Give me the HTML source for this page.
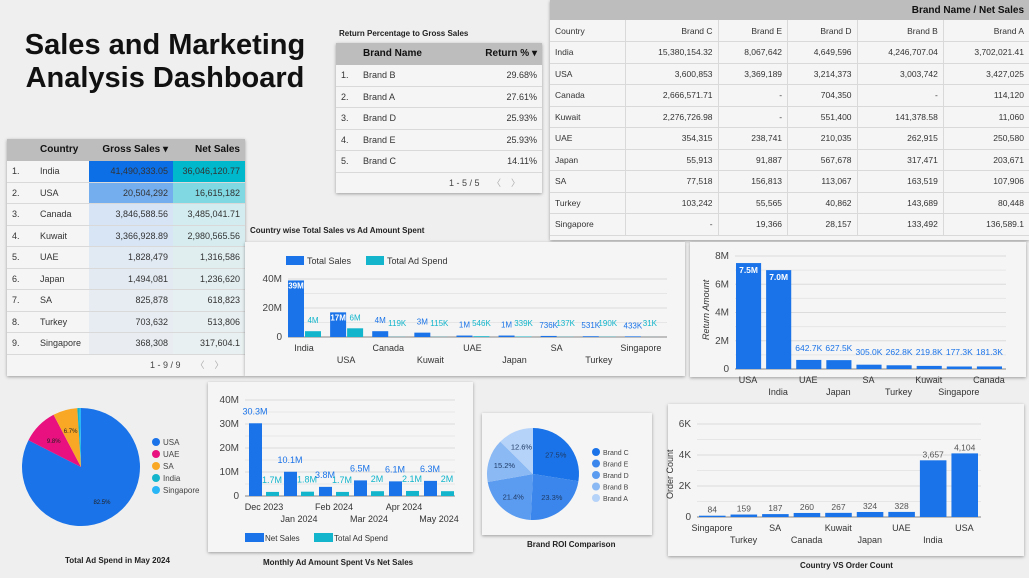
<!DOCTYPE html>
<html><head><meta charset="utf-8">
<style>
*{box-sizing:border-box;margin:0;padding:0}
body{width:1029px;height:578px;background:#efefef;font-family:"Liberation Sans",sans-serif;position:relative;overflow:hidden;color:#222}
.abs{position:absolute}
.panel{position:absolute;background:#f5f5f5;box-shadow:0 1px 3px rgba(0,0,0,.35)}
table{border-collapse:collapse;font-size:9px;color:#333}
td,th{height:21.5px;padding:0 5px;border-bottom:1px solid #d9d9d9;white-space:nowrap}
th{background:#bdbdbd;font-weight:bold;color:#111;font-size:10px;border-bottom:none}
.r{text-align:right}
.ttl{position:absolute;font-size:8px;font-weight:bold;color:#222;white-space:nowrap}
svg text{font-family:"Liberation Sans",sans-serif}
</style></head><body>
<div class="abs" style="left:5px;top:29px;width:320px;text-align:center;font-size:29px;font-weight:bold;line-height:33px;color:#111">Sales and Marketing Analysis Dashboard</div>

<!-- left table -->
<div class="panel" style="left:7px;top:139px;width:238px;height:237px">
<table style="width:238px">
<tr style="height:20px"><th style="width:28px;height:20px"></th><th style="text-align:left;width:54px">Country</th><th class="r" style="width:84px">Gross Sales ▾</th><th class="r">Net Sales</th></tr>
<tbody id="lt"></tbody></table>
<div class="abs" style="left:143px;top:219px;font-size:9px;color:#444">1 - 9 / 9 &nbsp;&nbsp;&nbsp;&nbsp; <span style="color:#aaa">〈 &nbsp;&nbsp; 〉</span></div>
</div>

<!-- return table -->
<div class="ttl" style="left:339px;top:29px">Return Percentage to Gross Sales</div>
<div class="panel" style="left:336px;top:43px;width:206px;height:150px">
<table style="width:206px">
<tr><th style="width:22px;height:21px"></th><th style="text-align:left">Brand Name</th><th class="r">Return % ▾</th></tr>
<tr><td>1.</td><td>Brand B</td><td class="r">29.68%</td></tr>
<tr><td>2.</td><td>Brand A</td><td class="r">27.61%</td></tr>
<tr><td>3.</td><td>Brand D</td><td class="r">25.93%</td></tr>
<tr><td>4.</td><td>Brand E</td><td class="r">25.93%</td></tr>
<tr><td>5.</td><td>Brand C</td><td class="r">14.11%</td></tr>
</table>
<div class="abs" style="left:113px;top:133px;font-size:9px;color:#444">1 - 5 / 5 &nbsp;&nbsp;&nbsp; <span style="color:#aaa">〈 &nbsp;&nbsp; 〉</span></div>
</div>

<!-- pivot -->
<div class="panel" style="left:550px;top:0;width:479px;height:240px">
<table style="width:479px;font-size:8.5px">
<tr><th colspan="6" class="r" style="height:20px">Brand Name / Net Sales</th></tr>
<tbody id="pv"></tbody></table>
</div>

<div class="ttl" style="left:250px;top:226px">Country wise Total Sales vs Ad Amount Spent</div>
<div class="panel" style="left:245px;top:242px;width:440px;height:134px"></div>
<div class="panel" style="left:690px;top:242px;width:336px;height:135px"></div>
<div class="panel" style="left:208px;top:382px;width:265px;height:170px"></div>
<div class="panel" style="left:482px;top:413px;width:170px;height:122px"></div>
<div class="panel" style="left:668px;top:404px;width:356px;height:152px"></div>
<div class="ttl" style="left:65px;top:556px">Total Ad Spend in May 2024</div>
<div class="ttl" style="left:263px;top:558px">Monthly Ad Amount Spent Vs Net Sales</div>
<div class="ttl" style="left:527px;top:540px">Brand ROI Comparison</div>
<div class="ttl" style="left:800px;top:561px">Country VS Order Count</div>

<svg id="svg" class="abs" style="left:0;top:0" width="1029" height="578"></svg>

<script>
// ---- table data ----
const tblCountries=["India","USA","Canada","Kuwait","UAE","Japan","SA","Turkey","Singapore"];
const tblGross=["41,490,333.05","20,504,292","3,846,588.56","3,366,928.89","1,828,479","1,494,081","825,878","703,632","368,308"];
const tblNet=["36,046,120.77","16,615,182","3,485,041.71","2,980,565.56","1,316,586","1,236,620","618,823","513,806","317,604.1"];
const grossBg=["#0d6fe6","#74aeee","#d6e4f6","#d8e5f5","#e1e9f3","#e3eaf2","#e6ecf2","#e7ecf2","#e9edf2"];
const netBg=["#00b8cc","#7fd8e2","#d3ecef","#d6ecef","#e1eef0","#e2eef0","#e6eff1","#e7eff1","#e9f0f1"];
let h="";
tblCountries.forEach((c,i)=>{h+=`<tr><td>${i+1}.</td><td>${c}</td><td class="r" style="background:${grossBg[i]}">${tblGross[i]}</td><td class="r" style="background:${netBg[i]}">${tblNet[i]}</td></tr>`;});
document.getElementById("lt").innerHTML=h;

const pvBrands=["Brand C","Brand E","Brand D","Brand B","Brand A"];
const pvRows=[["India","15,380,154.32","8,067,642","4,649,596","4,246,707.04","3,702,021.41"],
["USA","3,600,853","3,369,189","3,214,373","3,003,742","3,427,025"],
["Canada","2,666,571.71","-","704,350","-","114,120"],
["Kuwait","2,276,726.98","-","551,400","141,378.58","11,060"],
["UAE","354,315","238,741","210,035","262,915","250,580"],
["Japan","55,913","91,887","567,678","317,471","203,671"],
["SA","77,518","156,813","113,067","163,519","107,906"],
["Turkey","103,242","55,565","40,862","143,689","80,448"],
["Singapore","-","19,366","28,157","133,492","136,589.1"]];
h=`<tr><td style="width:75px">Country</td>`+pvBrands.map(b=>`<td class="r" style="border-left:1px solid #d9d9d9">${b}</td>`).join("")+"</tr>";
pvRows.forEach(r=>{h+=`<tr>`+r.map((v,j)=>`<td class="${j?'r':''}" style="${j?'border-left:1px solid #d9d9d9':''}">${v}</td>`).join("")+"</tr>";});
document.getElementById("pv").innerHTML=h;

// ---- chart data ----
const csCats=["India","USA","Canada","Kuwait","UAE","Japan","SA","Turkey","Singapore"];
const csSales=[39e6,17e6,4e6,3e6,1e6,1e6,736e3,531e3,433e3];
const csAd=[4e6,6e6,119e3,115e3,546e3,339e3,137e3,190e3,31e3];
const csSalesLbl=["39M","17M","4M","3M","1M","1M","736K","531K","433K"];
const csAdLbl=["4M","6M","119K","115K","546K","339K","137K","190K","31K"];
const csTicks=[0,20e6,40e6];const csTickLbl=["0","20M","40M"];

const rtCats=["USA","India","UAE","Japan","SA","Turkey","Kuwait","Singapore","Canada"];
const rtVals=[7.5e6,7.0e6,642.7e3,627.5e3,305e3,262.8e3,219.8e3,177.3e3,181.3e3];
const rtLbl=["7.5M","7.0M","642.7K","627.5K","305.0K","262.8K","219.8K","177.3K","181.3K"];
const rtTicks=[0,2e6,4e6,6e6,8e6];const rtTickLbl=["0","2M","4M","6M","8M"];

const moCats=["Dec 2023","Jan 2024","Feb 2024","Mar 2024","Apr 2024","May 2024"];
const moNet=[30.3e6,10.1e6,3.8e6,6.5e6,6.1e6,6.3e6];
const moAd=[1.7e6,1.8e6,1.7e6,2e6,2.1e6,2e6];
const moNetLbl=["30.3M","10.1M","3.8M","6.5M","6.1M","6.3M"];
const moAdLbl=["1.7M","1.8M","1.7M","2M","2.1M","2M"];
const moTicks=[0,10e6,20e6,30e6,40e6];const moTickLbl=["0","10M","20M","30M","40M"];

const ocCats=["Singapore","Turkey","SA","Canada","Kuwait","Japan","UAE","India","USA"];
const ocVals=[84,159,187,260,267,324,328,3657,4104];
const ocLbl=["84","159","187","260","267","324","328","3,657","4,104"];
const ocTicks=[0,2000,4000,6000];const ocTickLbl=["0","2K","4K","6K"];

const adPieLabels=["USA","UAE","SA","India","Singapore"];
const adPieVals=[82.5,9.8,6.7,0.6,0.4];
const adPieColors=["#1a73e8","#e8117f","#f9a825","#12b5cb","#29b6f6"];

const roiLabels=["Brand C","Brand E","Brand D","Brand B","Brand A"];
const roiVals=[27.5,23.3,21.4,15.2,12.6];
const roiColors=["#1a73e8","#3a86ec","#5c9cf0","#8bb9f4","#b5d2f8"];

const svg=document.getElementById("svg");
const NS="http://www.w3.org/2000/svg";
function el(tag,attrs,parent){const e=document.createElementNS(NS,tag);for(const k in attrs)e.setAttribute(k,attrs[k]);(parent||svg).appendChild(e);return e;}
function txt(x,y,s,attrs,parent){const t=el("text",Object.assign({x:x,y:y,"font-size":9,fill:"#333"},attrs),parent);t.textContent=s;return t;}

function axes(g,x0,x1,y0,y1,max,ticks,tickLbl){
  const ys=v=>y0-(v/max)*(y0-y1);
  for(let i=0;i<ticks.length;i++){
    const y=ys(ticks[i]);
    el("line",{x1:x0,x2:x1,y1:y,y2:y,stroke:i?"#dcdcdc":"#888","stroke-width":1},g);
    if(i<ticks.length-1){const ym=ys((ticks[i]+ticks[i+1])/2);el("line",{x1:x0,x2:x1,y1:ym,y2:ym,stroke:"#e6e6e6"},g);}
    txt(x0-6,y+3,tickLbl[i],{"text-anchor":"end","font-size":10,fill:"#444"},g);
  }
  return ys;
}
function catLabels(g,cats,xc,yA,yB){cats.forEach((c,i)=>txt(xc(i),i%2?yB:yA,c,{"text-anchor":"middle","font-size":9,fill:"#333"},g));}

// Country chart
(function(){
  const g=el("g",{});
  el("rect",{x:286,y:256,width:18,height:9,fill:"#1a73e8"},g);txt(307,264,"Total Sales",{},g);
  el("rect",{x:366,y:256,width:18,height:9,fill:"#12b5cb"},g);txt(387,264,"Total Ad Spend",{},g);
  const x0=288,x1=667,gw=(x1-x0)/csCats.length;
  const ys=axes(g,x0,x1,337,279,40e6,csTicks,csTickLbl);
  csCats.forEach((c,i)=>{
    const bx=x0+i*gw;
    const r1=el("rect",{x:bx,y:ys(csSales[i]),width:16,height:337-ys(csSales[i]),fill:"#1a73e8"},g);
    
    const r2=el("rect",{x:bx+17,y:ys(csAd[i]),width:16,height:337-ys(csAd[i]),fill:"#12b5cb"},g);
    
    const big=ys(csSales[i])<315;
    txt(bx+8,big?ys(csSales[i])+8:ys(csSales[i])-8,csSalesLbl[i],{"text-anchor":"middle","font-size":8,fill:big?"#fff":"#1a73e8","font-weight":big?"bold":"normal"},g);
    txt(bx+25,Math.min(ys(csAd[i])-8,326),csAdLbl[i],{"text-anchor":"middle","font-size":8,fill:"#12b5cb"},g);
  });
  catLabels(g,csCats,i=>x0+i*gw+16,351,363);
})();

// Return chart
(function(){
  const g=el("g",{});
  const x0=735,x1=1006,gw=(x1-x0)/rtCats.length;
  const ys=axes(g,x0,x1,369,256,8e6,rtTicks,rtTickLbl);
  txt(0,0,"Return Amount",{transform:"translate(709,340) rotate(-90)","font-size":9,"font-style":"italic",fill:"#333"},g);
  rtCats.forEach((c,i)=>{
    const bx=x0+i*gw+1;
    const r=el("rect",{x:bx,y:ys(rtVals[i]),width:gw-5,height:369-ys(rtVals[i]),fill:"#1a73e8"},g);
    
    const big=ys(rtVals[i])<330;
    txt(bx+(gw-5)/2,big?ys(rtVals[i])+10:Math.min(ys(rtVals[i])-9,355),rtLbl[i],{"text-anchor":"middle","font-size":8.5,fill:big?"#fff":"#1a73e8","font-weight":big?"bold":"normal"},g);
  });
  catLabels(g,rtCats,i=>x0+i*gw+(gw-4)/2,383,395);
})();

// Monthly chart
(function(){
  const g=el("g",{});
  const x0=245,x1=455,gw=(x1-x0)/moCats.length;
  const ys=axes(g,x0,x1,496,400,40e6,moTicks,moTickLbl);
  moCats.forEach((c,i)=>{
    const bx=x0+4+i*gw;
    const r1=el("rect",{x:bx,y:ys(moNet[i]),width:13,height:496-ys(moNet[i]),fill:"#1a73e8"},g);
    
    const r2=el("rect",{x:bx+17,y:ys(moAd[i]),width:13,height:496-ys(moAd[i]),fill:"#12b5cb"},g);
    
    txt(bx+6,ys(moNet[i])-9,moNetLbl[i],{"text-anchor":"middle","font-size":9,fill:"#1a73e8"},g);
    txt(bx+23,Math.min(ys(moAd[i])-9,483),moAdLbl[i],{"text-anchor":"middle","font-size":9,fill:"#12b5cb"},g);
  });
  catLabels(g,moCats,i=>x0+i*gw+19,510,522);
  el("rect",{x:245,y:533,width:19,height:9,fill:"#1a73e8"},g);txt(265,541,"Net Sales",{"font-size":8},g);
  el("rect",{x:314,y:533,width:19,height:9,fill:"#12b5cb"},g);txt(334,541,"Total Ad Spend",{"font-size":8},g);
})();

// Order chart
(function(){
  const g=el("g",{});
  const x0=697,x1=981,gw=(x1-x0)/ocCats.length;
  const ys=axes(g,x0,x1,517,424,6000,ocTicks,ocTickLbl);
  txt(0,0,"Order Count",{transform:"translate(673,499) rotate(-90)","font-size":9,fill:"#333"},g);
  ocCats.forEach((c,i)=>{
    const bx=x0+2+i*gw;
    const r=el("rect",{x:bx,y:ys(ocVals[i]),width:gw-5,height:517-ys(ocVals[i]),fill:"#1a73e8"},g);
    
    txt(bx+(gw-5)/2,ys(ocVals[i])-3,ocLbl[i],{"text-anchor":"middle","font-size":8.5,fill:"#555"},g);
  });
  catLabels(g,ocCats,i=>x0+i*gw+15,531,543);
})();

// pies
function pie(name,cx,cy,r,vals,colors,labels,lx,ly,lsp,lblColor,showMin){
  const g=el("g",{});
  const tot=vals.reduce((a,b)=>a+b,0);let a=-Math.PI/2;
  vals.forEach((v,i)=>{
    const da=v/tot*2*Math.PI,a2=a+da;
    const p=el("path",{d:`M${cx},${cy}L${cx+r*Math.cos(a)},${cy+r*Math.sin(a)}A${r},${r} 0 ${da>Math.PI?1:0} 1 ${cx+r*Math.cos(a2)},${cy+r*Math.sin(a2)}Z`,fill:colors[i]},g);
    
    if(v>=showMin){const m=(a+a2)/2,k=da>3?0.68:0.65;txt(cx+r*k*Math.cos(m),cy+r*k*Math.sin(m)+3,v.toFixed(1)+"%",{"text-anchor":"middle","font-size":lblColor?7.5:6,fill:lblColor||"#222"},g);}
    a=a2;
  });
  labels.forEach((l,i)=>{el("circle",{cx:lx,cy:ly+i*lsp,r:4,fill:colors[i]},g);txt(lx+7,ly+i*lsp+3,l,{"font-size":lblColor?7:8,fill:"#444"},g);});
}
pie("ad-spend-pie",81,467,59,adPieVals,adPieColors,adPieLabels,156,442,12,null,5);
pie("brand-roi-pie",533,474,46,roiVals,roiColors,roiLabels,596,452,11.5,"#1f3b66",5);
</script>
</body></html>
